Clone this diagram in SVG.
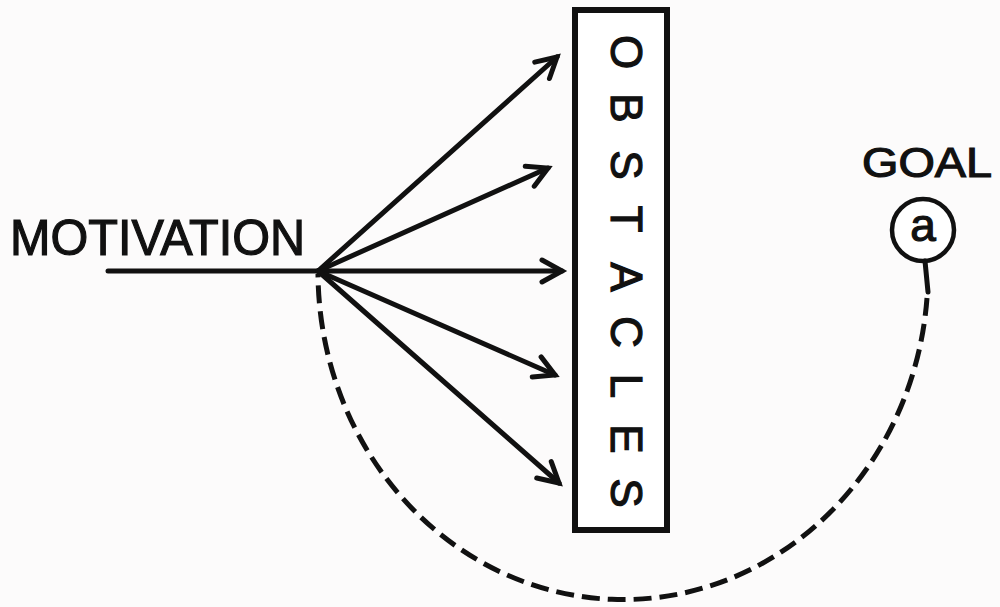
<svg xmlns="http://www.w3.org/2000/svg" width="1000" height="607" viewBox="0 0 1000 607">
<defs>
<style>
.ln{stroke:#111;stroke-width:5;fill:none;stroke-linecap:round}
.dash{stroke:#111;stroke-width:5;fill:none;stroke-dasharray:18 8}
.lbl{font-family:"Liberation Sans",Arial,sans-serif;fill:#111;stroke:#111;stroke-width:1.2}
</style>
<marker id="ah" markerUnits="userSpaceOnUse" markerWidth="30" markerHeight="30" refX="24" refY="15" orient="auto" overflow="visible">
<polyline points="4,4 24,15 4,26" fill="none" stroke="#111" stroke-width="5" stroke-linecap="round" stroke-linejoin="miter"/>
</marker>
</defs>
<rect width="1000" height="607" fill="#fcfbfb"/>
<g id="motivation">
<text class="lbl" x="10" y="255" font-size="50" textLength="295" lengthAdjust="spacingAndGlyphs">MOTIVATION</text>
</g>
<g id="obstacles">
<rect x="575" y="10" width="92" height="520" fill="#fff" stroke="#111" stroke-width="6"/>
<text class="lbl" transform="translate(627,0) rotate(90)" x="52 108 165 219 277 332 386 439 493" y="16" font-size="44" text-anchor="middle">OBSTACLES</text>
</g>
<g id="goal">
<text class="lbl" x="862" y="177" font-size="42" textLength="130" lengthAdjust="spacingAndGlyphs">GOAL</text>
<circle cx="923" cy="230" r="31" fill="#fff" stroke="#111" stroke-width="4.5"/>
<text class="lbl" x="923" y="241" font-size="46" text-anchor="middle">a</text>
</g>
<g id="connectors">
<line class="ln" x1="108" y1="271" x2="318" y2="271"/>
<line class="ln" x1="318" y1="271" x2="557" y2="57" marker-end="url(#ah)"/>
<line class="ln" x1="318" y1="271" x2="548" y2="168" marker-end="url(#ah)"/>
<line class="ln" x1="318" y1="271" x2="562" y2="271" marker-end="url(#ah)"/>
<line class="ln" x1="318" y1="271" x2="555" y2="375" marker-end="url(#ah)"/>
<line class="ln" x1="318" y1="271" x2="559" y2="483" marker-end="url(#ah)"/>
<line class="ln" x1="925" y1="261" x2="928" y2="292"/>
<path class="dash" d="M 927 298 A 305 328 0 0 1 318 274"/>
</g>
</svg>
